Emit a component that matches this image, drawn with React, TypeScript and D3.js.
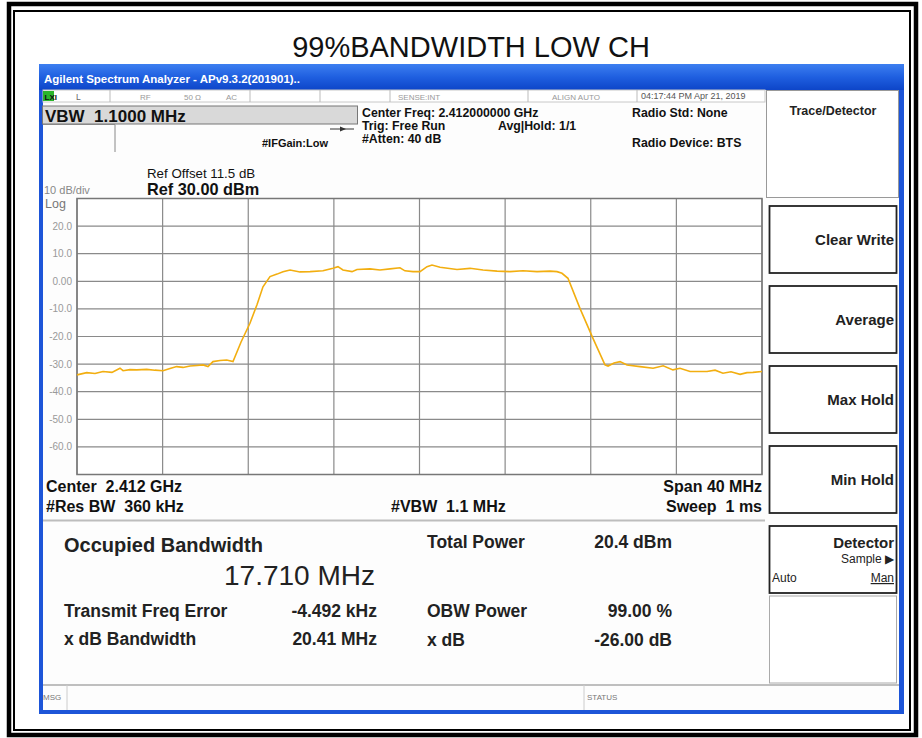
import React from "react";
import * as d3 from "d3";

// trace: offset from center (MHz) and level (dBm)
const traceOffsetMHz = [
  -20.0, -19.43, -18.95, -18.48, -17.96, -17.49, -17.31, -16.91, -16.51, -15.93,
  -15.45, -14.98, -14.57, -14.18, -13.81, -13.4, -12.99, -12.64, -12.35, -12.06,
  -11.65, -11.26, -10.89, -10.42, -9.9, -9.49, -9.14, -8.73, -8.32, -7.97,
  -7.56, -6.98, -6.39, -5.64, -5.05, -4.76, -4.47, -3.94, -3.65, -2.89,
  -2.31, -1.72, -1.14, -0.85, -0.38, 0.03, 0.44, 0.73, 1.2, 2.19,
  2.95, 3.71, 4.53, 5.28, 6.04, 6.86, 7.62, 8.03, 8.32, 8.67,
  9.37, 10.13, 10.83, 11.01, 11.36, 11.71, 12.12, 12.88, 13.64, 14.23,
  14.8, 15.21, 15.8, 16.79, 17.26, 17.72, 18.19, 18.72, 19.12, 19.47, 20.0,
];
const traceLevelDbm = [
  -33.9, -33.1, -33.4, -32.7, -33.0, -31.5, -32.4, -32.0, -32.1, -31.9,
  -32.2, -32.4, -31.6, -30.9, -31.2, -30.7, -30.5, -30.3, -30.9, -29.1,
  -28.7, -28.5, -29.1, -22.0, -15.2, -8.5, -2.0, 1.7, 2.6, 3.5,
  4.1, 3.4, 3.5, 3.8, 4.7, 5.3, 4.1, 3.5, 4.3, 4.5,
  4.1, 4.5, 4.9, 3.8, 3.5, 3.5, 5.3, 5.9, 5.1, 4.3,
  4.7, 4.1, 3.7, 3.5, 3.8, 3.5, 3.7, 3.5, 2.9, 1.1,
  -9.8, -20.7, -30.3, -30.7, -29.6, -29.1, -30.3, -30.9, -31.5, -30.6,
  -32.1, -31.5, -32.7, -32.7, -32.2, -33.3, -32.8, -33.7, -33.1, -33.0, -32.7,
];

const refLevel = 30;
const dbPerDiv = 10;
const spanMHz = 40;
const yTickValues = [20, 10, 0, -10, -20, -30, -40, -50, -60];
const yTickLabels = ["20.0", "10.0", "0.00", "-10.0", "-20.0", "-30.0", "-40.0", "-50.0", "-60.0"];
const softkeys = ["Clear Write", "Average", "Max Hold", "Min Hold"];

const FONT = "'Liberation Sans', Arial, Helvetica, sans-serif";

function T(props: any) {
  const { x, y, size = 12, bold = false, anchor = "start", fill = "#111", children, ...rest } = props;
  return (
    <text
      x={x}
      y={y}
      fontSize={size}
      fontWeight={bold ? "bold" : "normal"}
      textAnchor={anchor}
      fill={fill}
      fontFamily={FONT}
      style={{ whiteSpace: "pre" }}
      {...rest}
    >
      {children}
    </text>
  );
}

export default function App() {
  const x = d3.scaleLinear().domain([-spanMHz / 2, spanMHz / 2]).range([77, 762]);
  const y = d3
    .scaleLinear()
    .domain([refLevel - 10 * dbPerDiv, refLevel])
    .range([474.5, 198.5]);

  const line = d3
    .line<number>()
    .x((d, i) => x(traceOffsetMHz[i]))
    .y((d) => y(d));

  const xGrid = x.ticks(10);
  const yGrid = y.ticks(10);

  return (
    <svg
      width={922}
      height={738}
      style={{ position: "absolute", left: 0, top: 0, background: "#fff" }}
    >
      <defs>
        <linearGradient id="tb" x1="0" y1="0" x2="0" y2="1">
          <stop offset="0" stopColor="#3d7ff0" />
          <stop offset="0.5" stopColor="#1f5fe0" />
          <stop offset="1" stopColor="#0d45c8" />
        </linearGradient>
      </defs>

      {/* page frame */}
      <rect x={9} y={4} width={907} height={731} fill="none" stroke="#000" strokeWidth={4.5} />
      <rect x={14} y={11} width={896} height={719} fill="none" stroke="#000" strokeWidth={2} />

      <T x={471} y={57} size={29} anchor="middle">99%BANDWIDTH LOW CH</T>

      {/* window */}
      <rect x={39} y={64} width={865} height={650} fill="#1d55d8" />
      <rect x={39} y={64} width={865} height={26} fill="url(#tb)" />
      <T x={44} y={83} size={11.5} bold fill="#fff" textLength={256} lengthAdjust="spacingAndGlyphs">
        Agilent Spectrum Analyzer - APv9.3.2(201901)..
      </T>
      <rect x={43} y={90} width={856} height={620} fill="#fdfdfd" />

      {/* status row */}
      <rect x={43} y={90} width={722} height={12} fill="#fff" stroke="#c8c8c8" strokeWidth={1} />
      {[110, 250, 320, 390, 528, 637].map((sx) => (
        <line key={sx} x1={sx} x2={sx} y1={90} y2={102} stroke="#bbb" />
      ))}
      <rect x={43} y={91} width={11} height={10} fill="#2bb52b" />
      <T x={44.5} y={99.5} size={8} bold fill="#111">LXI</T>
      <T x={76} y={99.5} size={8.5} fill="#666">L</T>
      <T x={140} y={99.5} size={8} fill="#999">RF</T>
      <T x={184} y={99.5} size={8} fill="#999">50 Ω</T>
      <T x={226} y={99.5} size={8} fill="#999">AC</T>
      <T x={398} y={99.5} size={8} fill="#999">SENSE:INT</T>
      <T x={552} y={99.5} size={8} fill="#999">ALIGN AUTO</T>
      <T x={641} y={99} size={9} fill="#555">04:17:44 PM Apr 21, 2019</T>

      {/* header */}
      <rect x={42.5} y={106} width={315} height={18} fill="#d9d9d9" stroke="#777" strokeWidth={1} />
      <T x={45} y={121.5} size={17} bold>VBW  1.1000 MHz</T>
      <path d="M43,124.5 H115 V152" fill="none" stroke="#888" strokeWidth={1} />
      <line x1={330} x2={354} y1={129} y2={129} stroke="#333" strokeWidth={1} />
      <path d="M340,126.5 L346,129 L340,131.5 Z" fill="#333" />
      <T x={262} y={147} size={11} bold>#IFGain:Low</T>
      <T x={362} y={117} size={12.3} bold>Center Freq: 2.412000000 GHz</T>
      <T x={362} y={130} size={12.3} bold>Trig: Free Run</T>
      <T x={362} y={143} size={12.3} bold>#Atten: 40 dB</T>
      <T x={498} y={130} size={12.3} bold>Avg|Hold: 1/1</T>
      <T x={632} y={117} size={12.3} bold>Radio Std: None</T>
      <T x={632} y={147} size={12.3} bold>Radio Device: BTS</T>

      <T x={147} y={178} size={13.3}>Ref Offset 11.5 dB</T>
      <T x={147} y={195} size={16.3} bold>Ref 30.00 dBm</T>
      <T x={44} y={194} size={11} fill="#888">10 dB/div</T>
      <T x={45} y={208} size={12.5} fill="#777">Log</T>

      {/* graticule */}
      <rect x={77} y={198.5} width={685} height={276} fill="#fff" />
      {yGrid.map((v) => (
        <line key={"h" + v} x1={77} x2={762} y1={y(v)} y2={y(v)} stroke="#8a8a8a" strokeWidth={1.2} />
      ))}
      {xGrid.map((v) => (
        <line key={"v" + v} x1={x(v)} x2={x(v)} y1={198.5} y2={474.5} stroke="#8a8a8a" strokeWidth={1.2} />
      ))}
      <rect x={77} y={198.5} width={685} height={276} fill="none" stroke="#777" strokeWidth={1.5} />
      {yTickValues.map((v, i) => (
        <T key={"l" + v} x={72} y={y(v) + 3.5} size={10} anchor="end" fill="#999">
          {yTickLabels[i]}
        </T>
      ))}
      <path d={line(traceLevelDbm) || ""} fill="none" stroke="#f2ae10" strokeWidth={1.6} />

      {/* bottom annotations */}
      <T x={46} y={492} size={16} bold>Center  2.412 GHz</T>
      <T x={46} y={512} size={16} bold>#Res BW  360 kHz</T>
      <T x={391} y={512} size={16} bold>#VBW  1.1 MHz</T>
      <T x={762} y={492} size={16} bold anchor="end">Span 40 MHz</T>
      <T x={762} y={512} size={16} bold anchor="end">Sweep  1 ms</T>
      <line x1={43} x2={765} y1={520.5} y2={520.5} stroke="#bdbdbd" strokeWidth={2} />

      {/* measurement results */}
      <T x={64} y={552} size={20} bold fill="#222">Occupied Bandwidth</T>
      <T x={375} y={585} size={28} anchor="end" fill="#222">17.710 MHz</T>
      <T x={64} y={617} size={17.5} bold fill="#222">Transmit Freq Error</T>
      <T x={377} y={617} size={17.5} bold anchor="end" fill="#222">-4.492 kHz</T>
      <T x={64} y={645} size={17.5} bold fill="#222">x dB Bandwidth</T>
      <T x={377} y={645} size={17.5} bold anchor="end" fill="#222">20.41 MHz</T>
      <T x={427} y={548} size={17.5} bold fill="#222">Total Power</T>
      <T x={672} y={548} size={17.5} bold anchor="end" fill="#222">20.4 dBm</T>
      <T x={427} y={617} size={17.5} bold fill="#222">OBW Power</T>
      <T x={672} y={617} size={17.5} bold anchor="end" fill="#222">99.00 %</T>
      <T x={427} y={646} size={17.5} bold fill="#222">x dB</T>
      <T x={672} y={646} size={17.5} bold anchor="end" fill="#222">-26.00 dB</T>

      {/* right softkey panel */}
      <rect x={766.5} y={90.5} width={132} height={107} fill="#fff" stroke="#999" strokeWidth={1} />
      <T x={833} y={115} size={12.5} bold anchor="middle" fill="#222">Trace/Detector</T>
      {softkeys.map((k, i) => (
        <g key={k}>
          <rect x={769.5} y={206 + i * 80} width={127} height={67} fill="#fff" stroke="#222" strokeWidth={1.8} />
          <T x={894} y={245 + i * 80} size={15} bold anchor="end" fill="#222">{k}</T>
        </g>
      ))}
      <rect x={769.5} y={526} width={127} height={67} fill="#fff" stroke="#222" strokeWidth={1.8} />
      <T x={894} y={548} size={15} bold anchor="end" fill="#222">Detector</T>
      <T x={894} y={563} size={12} anchor="end" fill="#222">Sample ▶</T>
      <T x={772} y={582} size={12} fill="#222">Auto</T>
      <T x={894} y={582} size={12} anchor="end" fill="#222" textDecoration="underline">Man</T>
      <rect x={769.5} y={596} width={127} height={87} fill="#fff" stroke="#aaa" strokeWidth={1} />

      {/* message row */}
      <line x1={43} x2={899} y1={685} y2={685} stroke="#aaa" strokeWidth={1.5} />
      <line x1={67} x2={67} y1={685} y2={710} stroke="#ccc" />
      <line x1={584} x2={584} y1={685} y2={710} stroke="#ccc" />
      <T x={43} y={700} size={8} fill="#777">MSG</T>
      <T x={587} y={700} size={8} fill="#777">STATUS</T>
    </svg>
  );
}
